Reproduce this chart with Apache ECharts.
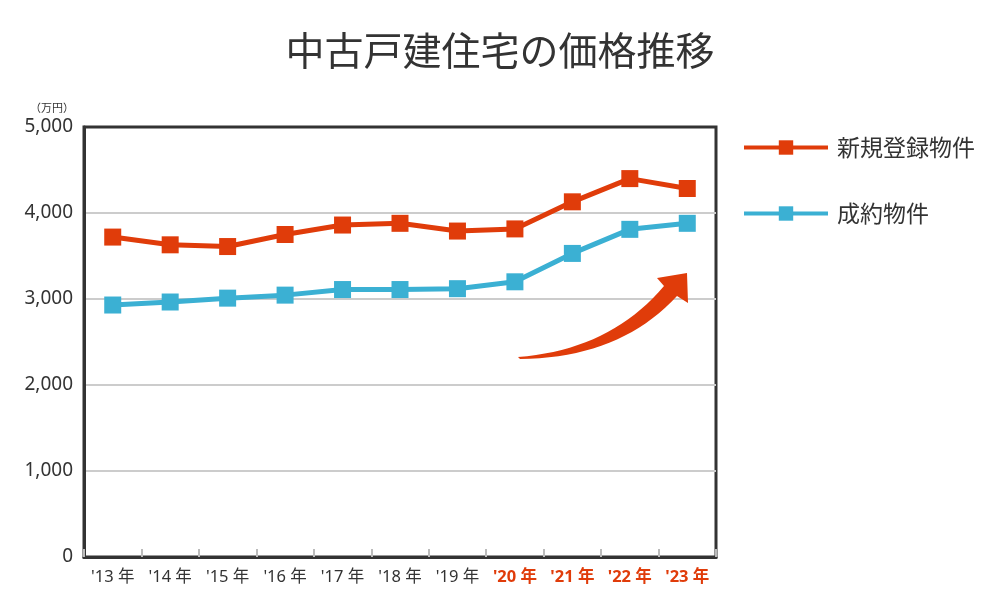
<!DOCTYPE html>
<html>
<head>
<meta charset="utf-8">
<script src="https://cdn.jsdelivr.net/npm/echarts@6/dist/echarts.min.js"></script>
<style>
  body { margin: 0; background: #fff; }
  #chart { width: 1000px; height: 610px; }
</style>
</head>
<body>
<div id="chart"></div>
<script>
var years = ["'13 年", "'14 年", "'15 年", "'16 年", "'17 年", "'18 年", "'19 年", "'20 年", "'21 年", "'22 年", "'23 年"];
var highlightYears = ["'20 年", "'21 年", "'22 年", "'23 年"];
var newListing = [3720, 3630, 3610, 3750, 3860, 3880, 3790, 3815, 4130, 4400, 4285];
var contracted = [2930, 2965, 3010, 3045, 3110, 3110, 3120, 3200, 3530, 3810, 3880];

var RED = "#e03c0a";
var BLUE = "#3bb0d3";
var FONT = "'Noto Sans', 'Noto Sans CJK JP', sans-serif";

var catData = years.map(function (y) {
  if (highlightYears.indexOf(y) > -1) {
    return { value: y, textStyle: { color: RED, fontWeight: "bold" } };
  }
  return y;
});

// sample a quadratic curve into polygon points (for the decorative arrow)
function quad(p0, c, p1, n) {
  var pts = [];
  for (var i = 0; i <= n; i++) {
    var t = i / n, u = 1 - t;
    pts.push([u * u * p0[0] + 2 * u * t * c[0] + t * t * p1[0],
              u * u * p0[1] + 2 * u * t * c[1] + t * t * p1[1]]);
  }
  return pts;
}
var arrowPts = quad([518, 357], [610, 350], [664, 286], 20)
  .concat([[657, 278], [687, 273], [688, 303]])
  .concat(quad([677, 296], [620, 358], [520, 359], 20));

var myChart = echarts.init(document.getElementById("chart"));

var option = {
  backgroundColor: "#fff",
  animation: false,
  title: {
    text: "中古戸建住宅の価格推移",
    left: "center",
    top: 26,
    textStyle: { fontFamily: "'Noto Sans CJK JP', sans-serif", fontSize: 39, fontWeight: "normal", color: "#333" }
  },
  legend: {
    orient: "vertical",
    left: 742,
    top: 136,
    padding: 0,
    itemWidth: 84,
    itemHeight: 18,
    itemGap: 43,
    lineStyle: { width: 4 },
    textStyle: { fontFamily: "'Noto Sans CJK JP', sans-serif", fontSize: 23, color: "#333", padding: [0, 0, 0, 4] },
    data: ["新規登録物件", "成約物件"]
  },
  grid: {
    left: 84,
    right: 284,
    top: 127,
    bottom: 53,
    show: true,
    borderColor: "#333",
    borderWidth: 3
  },
  xAxis: {
    type: "category",
    data: catData,
    boundaryGap: true,
    axisLine: { show: true, lineStyle: { color: "#333", width: 3 } },
    axisTick: { show: true, inside: true, length: 8, interval: 0, lineStyle: { color: "#bbb", width: 2 } },
    axisLabel: { interval: 0, margin: 12, fontFamily: FONT, fontSize: 16.5, color: "#333" },
    splitLine: { show: false }
  },
  yAxis: {
    type: "value",
    min: 0,
    max: 5000,
    interval: 1000,
    name: "（万円）",
    nameLocation: "end",
    nameGap: 14,
    nameTextStyle: { fontFamily: "'Noto Sans CJK JP', sans-serif", fontSize: 11, color: "#333", align: "right", padding: [0, 10, 0, 0] },
    axisLine: { show: true, lineStyle: { color: "#333", width: 3 } },
    axisTick: { show: false },
    axisLabel: {
      margin: 11,
      fontFamily: FONT,
      fontSize: 19,
      color: "#333",
      formatter: function (v) { return v.toLocaleString("en-US"); }
    },
    splitLine: { show: true, showMinLine: false, showMaxLine: false, lineStyle: { color: "#ccc", width: 2 } }
  },
  series: [
    {
      name: "新規登録物件",
      type: "line",
      data: newListing,
      symbol: "rect",
      symbolSize: 17,
      itemStyle: { color: RED },
      lineStyle: { color: RED, width: 5 },
      z: 3
    },
    {
      name: "成約物件",
      type: "line",
      data: contracted,
      symbol: "rect",
      symbolSize: 17,
      itemStyle: { color: BLUE },
      lineStyle: { color: BLUE, width: 5 },
      z: 3
    }
  ],
  graphic: [
    {
      type: "polygon",
      z: 10,
      shape: { points: arrowPts },
      style: { fill: RED }
    }
  ]
};

myChart.setOption(option);
</script>
</body>
</html>
